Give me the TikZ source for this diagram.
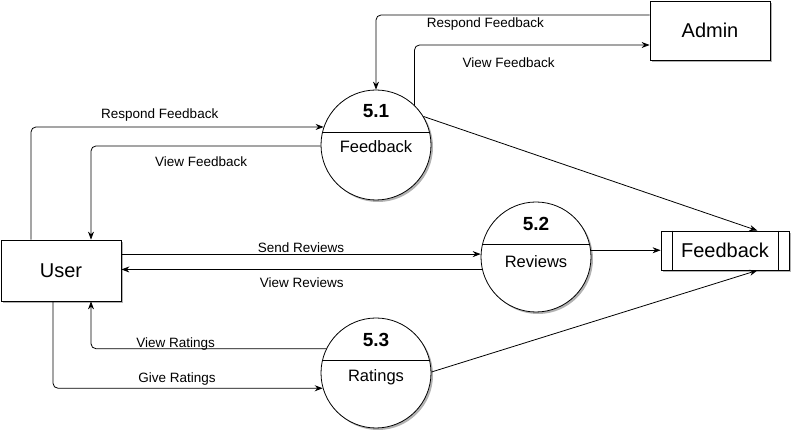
\documentclass[tikz,border=0pt]{standalone}
\usepackage{fontspec}
\setmainfont{Liberation Sans}
\usetikzlibrary{arrows.meta,shadows}

\begin{document}
\begin{tikzpicture}[x=1pt, y=-1pt,
  flow/.style={-{Stealth[length=8pt,width=6pt]}, line width=0.8pt, rounded corners=5pt},
  lbl/.style={font=\fontsize{13.5}{16}\selectfont, inner sep=2pt},
  shade/.style={drop shadow={shadow xshift=2pt, shadow yshift=-2pt, fill=black, opacity=0.3}},
  entity/.style={draw, line width=0.8pt, fill=white, shade, inner sep=0pt,
    font=\fontsize{20}{24}\selectfont},
  proc/.style={draw, circle, line width=0.8pt, fill=white, shade, inner sep=0pt,
    minimum size=2*\RAD},
  procnum/.style={font=\fontsize{19}{22}\selectfont\bfseries},
  procname/.style={font=\fontsize{16.5}{20}\selectfont}]

  \newcommand\RAD{55pt};
  \newcommand\CHORD{53pt};
  \newcommand\YLINE{13pt};

  \useasboundingbox (0,0) rectangle (793,435);

  % external entities and the store
  \node[entity, minimum width=120pt, minimum height=61pt] (user) at (61,270.5) {User};
  \node[entity, minimum width=120pt, minimum height=59pt] (admin) at (710,30.5) {Admin};
  \node[entity, minimum width=128pt, minimum height=39pt] (store) at (725,250.5) {Feedback};
  \draw[line width=0.8pt] ([xshift=12pt]store.north west) -- ([xshift=12pt]store.south west);
  \draw[line width=0.8pt] ([xshift=-11pt]store.north east) -- ([xshift=-11pt]store.south east);

  % processes
  \node[proc] (p51) at (376,145) {};
  \node[proc] (p52) at (536,257) {};
  \node[proc] (p53) at (376,373) {};

  \draw[line width=0.8pt] ([shift={(-\CHORD,\YLINE)}]p51.center) -- ([shift={(\CHORD,\YLINE)}]p51.center);
  \draw[line width=0.8pt] ([shift={(-\CHORD,\YLINE)}]p52.center) -- ([shift={(\CHORD,\YLINE)}]p52.center);
  \draw[line width=0.8pt] ([shift={(-\CHORD,\YLINE)}]p53.center) -- ([shift={(\CHORD,\YLINE)}]p53.center);

  \node[procnum] (n51) at ([yshift=34pt]p51.center) {5.1};
  \node[procname] (t51) at ([yshift=-2pt]p51.center) {Feedback};
  \node[procnum] (n52) at ([yshift=33pt]p52.center) {5.2};
  \node[procname] (t52) at ([yshift=-5pt]p52.center) {Reviews};
  \node[procnum] (n53) at ([yshift=33pt]p53.center) {5.3};
  \node[procname] (t53) at ([yshift=-4pt]p53.center) {Ratings};

  % user <-> 5.1
  \draw[flow] ([xshift=-30pt]user.north) |-
  node[lbl, pos=0.72, above=3pt] (lrf) {Respond Feedback} (p51.161);
  \draw[flow] (p51.181) -|
  node[lbl, pos=0.26, below=8pt] (lvf) {View Feedback} ([xshift=30pt]user.north);

  % admin <-> 5.1
  \draw[flow] ([yshift=15.5pt]admin.west) -|
  node[lbl, pos=0.3, below=0pt] (larf) {Respond Feedback} (p51.north);
  \draw[flow] (p51.46) |-
  node[lbl, pos=0.7, below=10pt] (lavf) {View Feedback} ([yshift=-14.5pt]admin.west);

  % user <-> 5.2
  \draw[flow] (user.east |- p52.177) --
  node[lbl, above=-1pt] (lsr) {Send Reviews} (p52.177);
  \draw[flow] (p52.193) --
  node[lbl, below=6pt] (lvr) {View Reviews} (p52.193 -| user.east);

  % user <-> 5.3
  \draw[flow] (p53.154) -|
  node[lbl, pos=0.32, above=-4pt] (lvra) {View Ratings} ([xshift=30pt]user.south);
  \draw[flow] ([xshift=-8pt]user.south) |-
  node[lbl, pos=0.73, above=1pt] (lgr) {Give Ratings} (p53.196);

  % processes -> store
  \draw[flow] (p51.31) -- ([xshift=-32pt]store.north east);
  \draw[flow] (p52.7) -- (p52.7 -| store.west);
  \draw[flow] (p53.1) -- ([xshift=-32pt]store.south east);

\end{tikzpicture}
\end{document}
